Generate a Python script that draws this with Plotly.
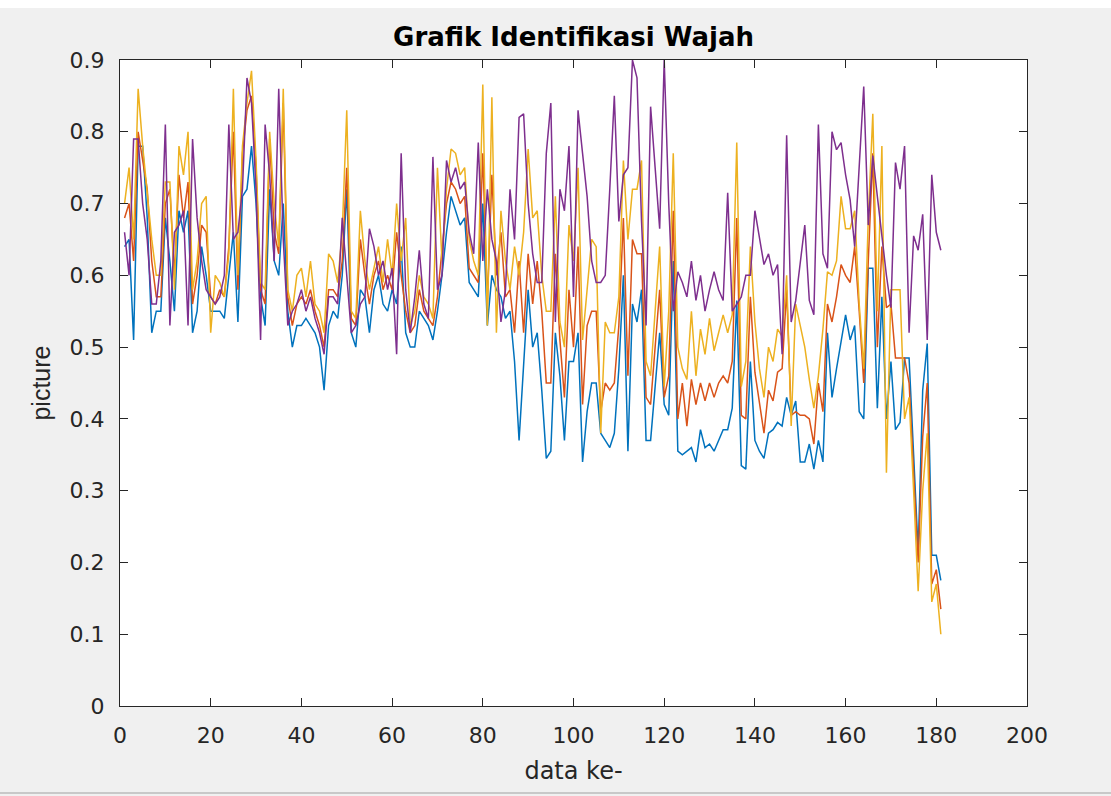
import plotly.graph_objects as go

# sample index
data_ke = list(range(1, 182))

# identification scores per face picture, index 1..181
picture_1 = [
    0.64, 0.65, 0.51, 0.78, 0.78, 0.68, 0.52, 0.55, 0.55, 0.68, 0.62, 0.55, 0.69, 0.66, 0.69, 0.52, 0.55, 0.64, 0.60, 0.55, 0.55, 0.55, 0.54,
    0.60, 0.66, 0.535, 0.71, 0.72, 0.78, 0.70, 0.57, 0.53, 0.72, 0.62, 0.60, 0.70, 0.55, 0.50, 0.53, 0.53, 0.54, 0.53, 0.52, 0.50, 0.44, 0.53,
    0.55, 0.54, 0.60, 0.72, 0.52, 0.50, 0.58, 0.57, 0.52, 0.58, 0.60, 0.56, 0.55, 0.58, 0.56, 0.64, 0.52, 0.50, 0.50, 0.55, 0.54, 0.53, 0.51,
    0.55, 0.60, 0.66, 0.71, 0.69, 0.67, 0.68, 0.59, 0.58, 0.57, 0.70, 0.53, 0.60, 0.58, 0.57, 0.54, 0.55, 0.48, 0.37, 0.48, 0.58, 0.50, 0.52,
    0.44, 0.345, 0.355, 0.52, 0.46, 0.37, 0.48, 0.48, 0.52, 0.34, 0.41, 0.45, 0.45, 0.38, 0.37, 0.36, 0.38, 0.47, 0.60, 0.355, 0.56, 0.535, 0.58,
    0.37, 0.37, 0.45, 0.52, 0.42, 0.405, 0.62, 0.355, 0.35, 0.355, 0.36, 0.34, 0.385, 0.36, 0.365, 0.355, 0.37, 0.385, 0.385, 0.415, 0.565, 0.335, 0.33,
    0.48, 0.37, 0.355, 0.345, 0.38, 0.385, 0.395, 0.39, 0.43, 0.405, 0.425, 0.34, 0.34, 0.365, 0.33, 0.37, 0.34, 0.52, 0.43, 0.47, 0.51, 0.545, 0.51,
    0.53, 0.41, 0.40, 0.61, 0.61, 0.415, 0.57, 0.40, 0.48, 0.385, 0.395, 0.485, 0.485, 0.35, 0.215, 0.44, 0.505, 0.21, 0.21, 0.175,
]
picture_2 = [
    0.68, 0.70, 0.62, 0.80, 0.76, 0.72, 0.62, 0.57, 0.57, 0.70, 0.72, 0.60, 0.74, 0.68, 0.73, 0.56, 0.60, 0.67, 0.66, 0.57, 0.56, 0.58, 0.57,
    0.64, 0.80, 0.58, 0.77, 0.83, 0.85, 0.75, 0.58, 0.56, 0.79, 0.66, 0.63, 0.84, 0.57, 0.53, 0.56, 0.57, 0.56, 0.58, 0.55, 0.53, 0.50, 0.58,
    0.58, 0.57, 0.62, 0.75, 0.54, 0.53, 0.65, 0.60, 0.56, 0.60, 0.62, 0.58, 0.60, 0.58, 0.66, 0.60, 0.55, 0.52, 0.53, 0.58, 0.55, 0.54, 0.53,
    0.57, 0.64, 0.70, 0.73, 0.72, 0.70, 0.71, 0.61, 0.60, 0.59, 0.77, 0.56, 0.74, 0.60, 0.66, 0.57, 0.58, 0.52, 0.62, 0.52, 0.63, 0.56, 0.62,
    0.55, 0.45, 0.45, 0.63, 0.51, 0.43, 0.58, 0.50, 0.64, 0.42, 0.53, 0.55, 0.55, 0.41, 0.45, 0.44, 0.45, 0.53, 0.68, 0.46, 0.65, 0.63, 0.63,
    0.43, 0.42, 0.50, 0.58, 0.43, 0.46, 0.69, 0.40, 0.45, 0.39, 0.455, 0.42, 0.45, 0.425, 0.45, 0.43, 0.45, 0.46, 0.45, 0.48, 0.68, 0.405, 0.40,
    0.57, 0.465, 0.42, 0.38, 0.44, 0.425, 0.465, 0.47, 0.58, 0.405, 0.41, 0.405, 0.405, 0.40, 0.365, 0.45, 0.41, 0.56, 0.535, 0.57, 0.615, 0.60, 0.59,
    0.64, 0.55, 0.45, 0.62, 0.77, 0.50, 0.64, 0.555, 0.56, 0.485, 0.485, 0.485, 0.45, 0.32, 0.20, 0.375, 0.45, 0.17, 0.19, 0.135,
]
picture_3 = [
    0.70, 0.75, 0.65, 0.86, 0.78, 0.72, 0.65, 0.60, 0.60, 0.73, 0.73, 0.58, 0.78, 0.74, 0.80, 0.58, 0.62, 0.70, 0.71, 0.52, 0.60, 0.59, 0.57,
    0.63, 0.86, 0.60, 0.78, 0.84, 0.885, 0.76, 0.59, 0.58, 0.80, 0.70, 0.64, 0.86, 0.58, 0.55, 0.60, 0.61, 0.57, 0.62, 0.56, 0.55, 0.52, 0.63,
    0.62, 0.59, 0.66, 0.83, 0.55, 0.54, 0.69, 0.62, 0.58, 0.61, 0.64, 0.59, 0.65, 0.60, 0.70, 0.62, 0.68, 0.53, 0.55, 0.60, 0.57, 0.56, 0.54,
    0.75, 0.62, 0.72, 0.776, 0.77, 0.74, 0.75, 0.65, 0.62, 0.60, 0.866, 0.53, 0.848, 0.52, 0.69, 0.62, 0.58, 0.64, 0.60, 0.66, 0.776, 0.68, 0.69,
    0.60, 0.55, 0.55, 0.71, 0.535, 0.50, 0.67, 0.62, 0.75, 0.51, 0.58, 0.65, 0.64, 0.38, 0.535, 0.52, 0.52, 0.57, 0.76, 0.65, 0.72, 0.72, 0.76,
    0.48, 0.46, 0.55, 0.64, 0.445, 0.55, 0.77, 0.50, 0.47, 0.455, 0.55, 0.46, 0.525, 0.49, 0.54, 0.495, 0.52, 0.545, 0.52, 0.545, 0.785, 0.445, 0.48,
    0.64, 0.535, 0.47, 0.43, 0.50, 0.48, 0.525, 0.515, 0.60, 0.39, 0.56, 0.53, 0.50, 0.455, 0.415, 0.46, 0.525, 0.605, 0.60, 0.62, 0.71, 0.665, 0.665,
    0.69, 0.56, 0.47, 0.68, 0.825, 0.55, 0.78, 0.325, 0.58, 0.58, 0.58, 0.40, 0.43, 0.30, 0.16, 0.30, 0.38, 0.145, 0.17, 0.10,
]
picture_4 = [
    0.66, 0.60, 0.79, 0.79, 0.70, 0.65, 0.56, 0.56, 0.62, 0.81, 0.53, 0.66, 0.67, 0.69, 0.53, 0.79, 0.68, 0.62, 0.58, 0.57, 0.56, 0.57, 0.60,
    0.81, 0.65, 0.66, 0.72, 0.875, 0.84, 0.72, 0.51, 0.81, 0.74, 0.62, 0.86, 0.65, 0.53, 0.55, 0.56, 0.58, 0.55, 0.57, 0.54, 0.52, 0.49, 0.57,
    0.57, 0.56, 0.68, 0.60, 0.52, 0.53, 0.56, 0.57, 0.665, 0.64, 0.60, 0.62, 0.58, 0.61, 0.49, 0.77, 0.58, 0.52, 0.57, 0.635, 0.56, 0.54, 0.765,
    0.58, 0.60, 0.76, 0.73, 0.75, 0.72, 0.73, 0.66, 0.63, 0.785, 0.62, 0.72, 0.65, 0.62, 0.535, 0.58, 0.72, 0.65, 0.82, 0.825, 0.70, 0.63, 0.59,
    0.59, 0.77, 0.84, 0.535, 0.72, 0.69, 0.78, 0.57, 0.83, 0.77, 0.71, 0.62, 0.59, 0.59, 0.60, 0.72, 0.85, 0.675, 0.74, 0.75, 0.90, 0.875, 0.675,
    0.53, 0.835, 0.75, 0.665, 0.90, 0.70, 0.55, 0.605, 0.59, 0.57, 0.62, 0.565, 0.60, 0.55, 0.58, 0.605, 0.58, 0.565, 0.715, 0.55, 0.56, 0.57, 0.60,
    0.60, 0.69, 0.65, 0.615, 0.63, 0.60, 0.615, 0.49, 0.795, 0.535, 0.565, 0.62, 0.67, 0.565, 0.545, 0.81, 0.63, 0.61, 0.80, 0.775, 0.785, 0.74, 0.705,
    0.64, 0.75, 0.863, 0.67, 0.767, 0.71, 0.655, 0.60, 0.555, 0.757, 0.72, 0.78, 0.52, 0.655, 0.635, 0.685, 0.51, 0.74, 0.66, 0.635,
]

series = [picture_1, picture_2, picture_3, picture_4]
colors = ["#0072BD", "#D95319", "#EDB120", "#7E2F8E"]

x_ticks = list(range(0, 201, 20))
y_ticks = [0, 0.1, 0.2, 0.3, 0.4, 0.5, 0.6, 0.7, 0.8, 0.9]
y_tick_text = ["0", "0.1", "0.2", "0.3", "0.4", "0.5", "0.6", "0.7", "0.8", "0.9"]

fig = go.Figure()
for values, color in zip(series, colors):
    fig.add_trace(go.Scatter(
        x=data_ke, y=values, mode="lines",
        line=dict(color=color, width=1.5),
        showlegend=False, hoverinfo="skip",
    ))

font_wide = "DejaVu Sans, Verdana, sans-serif"
font_narrow = "Liberation Sans, Arial, Helvetica, sans-serif"
axis_color = "#262626"

axis_common = dict(
    showline=True, linecolor=axis_color, linewidth=1, mirror="ticks",
    ticks="inside", ticklen=8, tickcolor=axis_color, tickwidth=1,
    showgrid=False, zeroline=False,
    tickfont=dict(family=font_wide, size=22, color=axis_color),
)

fig.update_layout(
    width=1111, height=796,
    margin=dict(l=120, r=84, t=60, b=90),
    paper_bgcolor="#f0f0f0", plot_bgcolor="#ffffff",
    title=dict(
        text="<b>Grafik Identifikasi Wajah</b>",
        font=dict(family=font_wide, size=26, color="#000000"),
        x=0.5, xref="paper", xanchor="center",
        y=1 - 37 / 796, yref="container", yanchor="middle",
    ),
    xaxis=dict(
        range=[0, 200], tickvals=x_ticks,
        title=dict(text="data ke-", standoff=14,
                   font=dict(family=font_wide, size=24, color=axis_color)),
        ticklabelstandoff=10,
        **axis_common,
    ),
    yaxis=dict(
        range=[0, 0.9], tickvals=y_ticks, ticktext=y_tick_text,
        title=dict(text="picture", standoff=11,
                   font=dict(family=font_narrow, size=25, color=axis_color)),
        ticklabelstandoff=10,
        **axis_common,
    ),
    shapes=[
        dict(type="rect", xref="paper", yref="paper",
             x0=-120 / 907, x1=1 + 84 / 907, y0=1 + 52 / 646, y1=1 + 60 / 646,
             fillcolor="#ffffff", line=dict(width=0), layer="below"),
        dict(type="line", xref="paper", yref="paper",
             x0=-120 / 907, x1=1 + 84 / 907, y0=-87 / 646, y1=-87 / 646,
             line=dict(color="#c8c8c8", width=2)),
    ],
)

fig.write_html("out.html")
